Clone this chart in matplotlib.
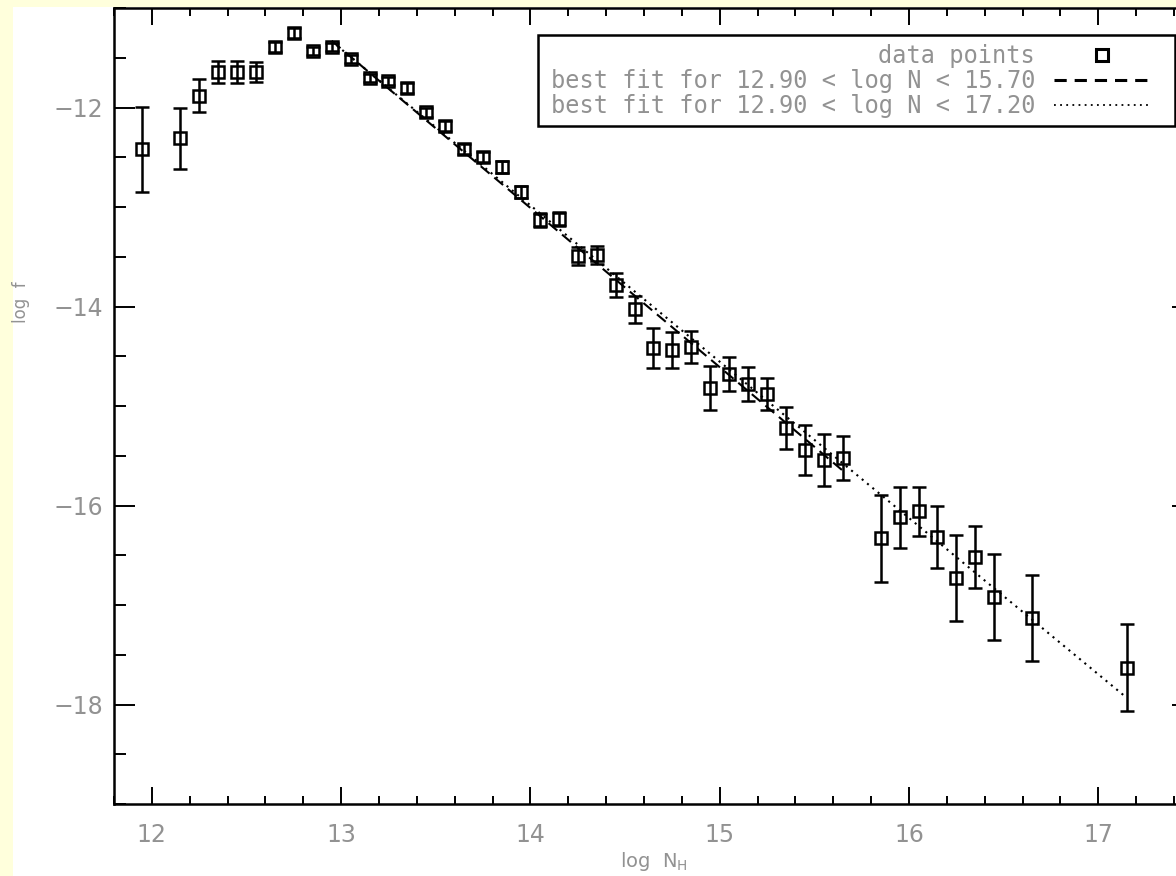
import numpy as np
import matplotlib
matplotlib.use("Agg")
import matplotlib.pyplot as plt
from matplotlib.lines import Line2D
from matplotlib.patches import Rectangle
from matplotlib.ticker import MultipleLocator

# column density bins (log N_H) and distribution values (log f)
log_n = [11.95, 12.15, 12.25, 12.35, 12.45, 12.55, 12.65, 12.75, 12.85, 12.95,
         13.05, 13.15, 13.25, 13.35, 13.45, 13.55, 13.65, 13.75, 13.85, 13.95,
         14.05, 14.15, 14.25, 14.35, 14.45, 14.55, 14.65, 14.75, 14.85, 14.95,
         15.05, 15.15, 15.25, 15.35, 15.45, 15.55, 15.65, 15.85, 15.95, 16.05,
         16.15, 16.25, 16.35, 16.45, 16.65, 17.15]
log_f = [-12.42, -12.31, -11.88, -11.64, -11.64, -11.64, -11.39, -11.25, -11.43, -11.39,
         -11.51, -11.70, -11.73, -11.80, -12.05, -12.19, -12.42, -12.50, -12.60, -12.85,
         -13.13, -13.12, -13.49, -13.48, -13.78, -14.03, -14.42, -14.44, -14.41, -14.82,
         -14.68, -14.78, -14.88, -15.22, -15.44, -15.54, -15.52, -16.33, -16.12, -16.06,
         -16.32, -16.73, -16.52, -16.92, -17.13, -17.63]
log_f_err = [0.43, 0.31, 0.17, 0.11, 0.11, 0.10, 0.05, 0.05, 0.04, 0.04,
             0.04, 0.04, 0.04, 0.05, 0.05, 0.05, 0.05, 0.05, 0.06, 0.06,
             0.07, 0.07, 0.09, 0.09, 0.12, 0.14, 0.20, 0.18, 0.16, 0.22,
             0.17, 0.17, 0.16, 0.21, 0.25, 0.26, 0.22, 0.44, 0.31, 0.25,
             0.31, 0.43, 0.31, 0.43, 0.43, 0.44]

# power-law fits: log f = intercept + slope * log N
fit_lo = 12.90
fit_hi_short = 15.70
fit_hi_long = 17.20
fit_short = (9.39, -1.600)
fit_long = (9.01, -1.571)

x = np.array(log_n)
y = np.array(log_f)
yerr = np.array(log_f_err)

gray = '#929292'
W, H = 1176, 876
plt.rcParams['font.family'] = 'DejaVu Sans'

fig = plt.figure(figsize=(W / 100, H / 100), dpi=100, facecolor='#ffffdc')
fig.patches.append(Rectangle((13 / W, 0), 1, (H - 7) / H, transform=fig.transFigure,
                             facecolor='white', edgecolor='none', zorder=-10))
ax = fig.add_axes([114 / W, 72 / H, 1079 / W, 796 / H])

ax.errorbar(x, y, yerr=yerr, fmt='s', ms=8.5, mfc='none', mec='black', mew=1.8,
            ecolor='black', elinewidth=1.8, capsize=4.7, capthick=1.8, zorder=3)

m_short = (x > fit_lo) & (x < fit_hi_short)
m_long = (x > fit_lo) & (x < fit_hi_long)
xs = x[m_short][[0, -1]]
xl = x[m_long][[0, -1]]
ax.plot(xs, fit_short[0] + fit_short[1] * xs, color='black', lw=1.5, ls=(0, (5.5, 3)))
ax.plot(xl, fit_long[0] + fit_long[1] * xl, color='black', lw=1.5, ls=(0, (1, 2.3)))

ax.set_xlim(11.8, 17.5)
ax.set_ylim(-19, -11)
ax.xaxis.set_major_locator(MultipleLocator(1))
ax.xaxis.set_minor_locator(MultipleLocator(0.2))
ax.yaxis.set_major_locator(MultipleLocator(2))
ax.yaxis.set_minor_locator(MultipleLocator(0.5))
ax.tick_params(axis='both', which='both', direction='in', top=True, right=True,
               width=1.4, color='black', labelcolor=gray, labelsize=17)
ax.tick_params(axis='x', which='major', length=12, pad=14)
ax.tick_params(axis='x', which='minor', length=6)
ax.tick_params(axis='y', which='major', length=15, pad=8)
ax.tick_params(axis='y', which='minor', length=8.5)
for s in ax.spines.values():
    s.set_linewidth(1.8)

ax.set_xlabel(r'log  N$_{\rm H}$', fontsize=14, color=gray)
ax.xaxis.set_label_coords(0.5, -0.058)
ax.set_ylabel('log  f', fontsize=12, color=gray)
ax.yaxis.set_label_coords(-0.078, 0.63)

# legend: labels on the left, samples on the right, inside a plain box
ax.add_patch(Rectangle((538 / W, (H - 126) / H), (1175 - 538) / W, 91 / H,
                       transform=fig.transFigure, facecolor='white', edgecolor='black',
                       lw=1.8, zorder=4, clip_on=False))
handles = [Line2D([], [], marker='s', ls='none', ms=8.5, mfc='none', mec='black', mew=2.2),
           Line2D([], [], color='black', lw=2.2, ls=(0, (4.0, 2.6))),
           Line2D([], [], color='black', lw=1.3, ls=(0, (1, 2.4)))]
labels = ['data points',
          'best fit for %.2f < log N < %.2f' % (fit_lo, fit_hi_short),
          'best fit for %.2f < log N < %.2f' % (fit_lo, fit_hi_long)]
leg = ax.legend(handles, labels, loc='upper right', bbox_to_anchor=(1150 / W, (H - 44) / H),
                bbox_transform=fig.transFigure, borderaxespad=0, borderpad=0,
                markerfirst=False, frameon=False,
                prop={'family': 'DejaVu Sans Mono', 'size': 17}, labelcolor=gray,
                handlelength=4.07, handletextpad=0.8, labelspacing=0.04)
leg.set_zorder(5)

fig.savefig('out.png', dpi=100, facecolor=fig.get_facecolor())
